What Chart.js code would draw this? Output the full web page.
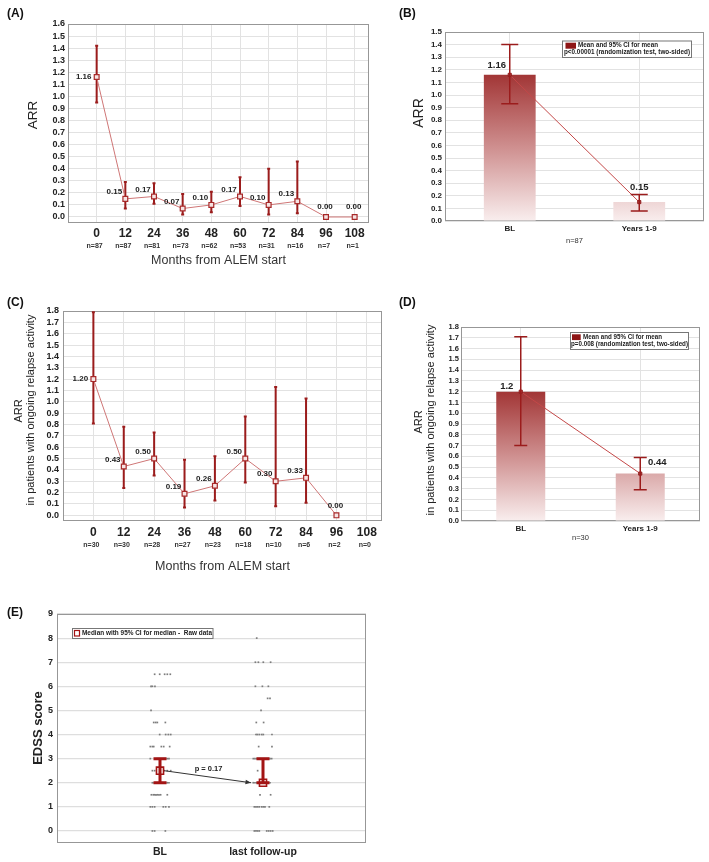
<!DOCTYPE html>
<html>
<head>
<meta charset="utf-8">
<title>ARR and EDSS after alemtuzumab</title>
<script src="https://cdn.jsdelivr.net/npm/chart.js@4.4.1/dist/chart.umd.min.js"></script>
<style>
  body { margin: 0; background: #fff; }
  #page { position: relative; width: 709px; height: 862px; overflow: hidden; font-family: "Liberation Sans", Arial, sans-serif; }
  canvas { position: absolute; }
  .tag { position: absolute; font-size: 12px; font-weight: bold; color: #111; }
</style>
</head>
<body>
<div id="page">
  <canvas id="chartA" width="400" height="290" style="left:0;top:0"></canvas>
  <canvas id="chartB" width="309" height="290" style="left:400px;top:0"></canvas>
  <canvas id="chartC" width="400" height="300" style="left:0;top:290px"></canvas>
  <canvas id="chartD" width="309" height="300" style="left:400px;top:290px"></canvas>
  <canvas id="chartE" width="400" height="272" style="left:0;top:590px"></canvas>
  <div class="tag" style="left:7px;top:6px">(A)</div>
  <div class="tag" style="left:399px;top:6px">(B)</div>
  <div class="tag" style="left:7px;top:295px">(C)</div>
  <div class="tag" style="left:399px;top:295px">(D)</div>
  <div class="tag" style="left:7px;top:605px">(E)</div>
</div>
<script>
var months = [0, 12, 24, 36, 48, 60, 72, 84, 96, 108];

// (A) all patients, ARR per year with 95% CI
var arrAll   = [1.16, 0.15, 0.17, 0.07, 0.10, 0.17, 0.10, 0.13, 0.00, 0.00];
var arrAllLo = [0.95, 0.07, 0.11, 0.02, 0.04, 0.09, 0.02, 0.03, null, null];
var arrAllHi = [1.42, 0.29, 0.28, 0.19, 0.21, 0.33, 0.40, 0.46, null, null];
var nAll     = ['n=87', 'n=87', 'n=81', 'n=73', 'n=62', 'n=53', 'n=31', 'n=16', 'n=7', 'n=1'];

// (C) patients with ongoing relapse activity
var arrAct   = [1.20, 0.43, 0.50, 0.19, 0.26, 0.50, 0.30, 0.33, 0.00, null];
var arrActLo = [0.81, 0.24, 0.35, 0.07, 0.13, 0.29, 0.08, 0.11, null, null];
var arrActHi = [1.79, 0.78, 0.73, 0.49, 0.52, 0.87, 1.13, 1.03, null, null];
var nAct     = ['n=30', 'n=30', 'n=28', 'n=27', 'n=23', 'n=18', 'n=10', 'n=6', 'n=2', 'n=0'];

// (B) and (D) baseline vs years 1-9
var periods = ['BL', 'Years 1-9'];
var meanAll = [1.16, 0.15];
var ciAllLo = [0.93, 0.08];
var ciAllHi = [1.40, 0.21];
var meanAct = [1.2, 0.44];
var ciActLo = [0.70, 0.29];
var ciActHi = [1.71, 0.59];

var ticks15 = [0, 0.1, 0.2, 0.3, 0.4, 0.5, 0.6, 0.7, 0.8, 0.9, 1.0, 1.1, 1.2, 1.3, 1.4, 1.5];
var ticks16 = [0, 0.1, 0.2, 0.3, 0.4, 0.5, 0.6, 0.7, 0.8, 0.9, 1.0, 1.1, 1.2, 1.3, 1.4, 1.5, 1.6];
var ticks18 = [0, 0.1, 0.2, 0.3, 0.4, 0.5, 0.6, 0.7, 0.8, 0.9, 1.0, 1.1, 1.2, 1.3, 1.4, 1.5, 1.6, 1.7, 1.8];
var edssTicks = [0, 1, 2, 3, 4, 5, 6, 7, 8, 9];

// (E) EDSS, median with 95% CI, raw data (horizontal spread)
var groups     = ['BL', 'last follow-up'];
var edssMedian = [2.5, 2.0];
var edssCiLo   = [2.0, 2.0];
var edssCiHi   = [3.0, 3.0];
var edssLevels = [8, 7, 6.5, 6, 5.5, 5, 4.5, 4, 3.5, 3, 2.5, 2, 1.5, 1, 0];
var blJitter = [
  [], [],
  [-0.052, -0.003, 0.045, 0.071, 0.1],
  [-0.087, -0.074, -0.049],
  [],
  [-0.087],
  [-0.061, -0.042, -0.026, 0.052],
  [-0.003, 0.055, 0.081, 0.104],
  [-0.094, -0.074, -0.061, 0.013, 0.036, 0.094],
  [-0.094, -0.026, -0.01, 0.006, 0.023, 0.039, 0.055, 0.071, 0.087],
  [-0.074, -0.052, 0, 0.039, 0.071, 0.104],
  [-0.074, -0.058, -0.042, -0.026, -0.01, 0.006, 0.023, 0.039, 0.055, 0.071, 0.087],
  [-0.084, -0.065, -0.052, -0.039, -0.026, -0.01, 0.006, 0.071],
  [-0.094, -0.074, -0.052, 0.032, 0.055, 0.087],
  [-0.074, -0.052, 0.052]
];
var fuJitter = [
  [-0.061],
  [-0.074, -0.045, 0.003, 0.074],
  [],
  [-0.074, -0.006, 0.052],
  [0.045, 0.068],
  [-0.019],
  [-0.065, 0.006],
  [-0.068, -0.055, -0.036, -0.013, 0.003, 0.087],
  [-0.042, 0.087],
  [-0.094, -0.078, -0.061, -0.045, -0.029, -0.013, 0.003, 0.019, 0.036, 0.052, 0.068, 0.084],
  [-0.052],
  [-0.094, -0.078, -0.061, -0.045, -0.029, -0.013, 0.003, 0.019, 0.036, 0.052, 0.068],
  [-0.029, 0.074],
  [-0.084, -0.068, -0.052, -0.036, -0.013, 0.003, 0.019, 0.061],
  [-0.084, -0.068, -0.052, -0.036, 0.036, 0.055, 0.074, 0.094]
];

var FONT = '"Liberation Sans", Arial, sans-serif';
var GRID = '#e2e2e2';
var FRAME = '#979797';
var DARKRED = '#9b1c1c';

Chart.defaults.font.family = FONT;
Chart.defaults.color = '#222';

function frame(ch) {
  var a = ch.chartArea, ctx = ch.ctx;
  ctx.save();
  ctx.strokeStyle = FRAME;
  ctx.lineWidth = 1;
  ctx.strokeRect(a.left + 0.5, a.top + 0.5, a.right - a.left - 1, a.bottom - a.top - 1);
  ctx.restore();
}

function whisker(ctx, x, yLo, yHi, cap) {
  ctx.beginPath();
  ctx.moveTo(x, yLo); ctx.lineTo(x, yHi);
  ctx.moveTo(x - cap, yLo); ctx.lineTo(x + cap, yLo);
  ctx.moveTo(x - cap, yHi); ctx.lineTo(x + cap, yHi);
  ctx.stroke();
}

function vText(ctx, text, x, y, font) {
  ctx.save();
  ctx.translate(x, y);
  ctx.rotate(-Math.PI / 2);
  ctx.font = font;
  ctx.textAlign = 'center';
  ctx.textBaseline = 'middle';
  ctx.fillStyle = '#222';
  ctx.fillText(text, 0, 0);
  ctx.restore();
}

function fixedTicks(list) {
  return function (s) { s.ticks = list.map(function (v) { return { value: v }; }); };
}

// line panels (A), (C)
function timeline(id, means, lo, hi, ns, yTicks, g) {
  var pts = months.map(function (m, i) { return { x: m, y: means[i] }; });
  var extras = {
    id: 'extras',
    beforeDatasetsDraw: function (ch) {
      frame(ch);
      var ctx = ch.ctx, xs = ch.scales.x, ys = ch.scales.y;
      ctx.save();
      ctx.strokeStyle = DARKRED;
      ctx.lineWidth = 2;
      months.forEach(function (m, i) {
        if (lo[i] == null) return;
        whisker(ctx, xs.getPixelForValue(m), ys.getPixelForValue(lo[i]), ys.getPixelForValue(hi[i]), 1.5);
      });
      ctx.restore();
    },
    afterDatasetsDraw: function (ch) {
      var ctx = ch.ctx, xs = ch.scales.x, ys = ch.scales.y;
      ctx.save();
      ctx.font = 'bold 8px ' + FONT;
      ctx.textAlign = 'center';
      ctx.textBaseline = 'middle';
      ctx.fillStyle = '#222';
      means.forEach(function (v, i) {
        if (v == null) return;
        var x = xs.getPixelForValue(months[i]), y = ys.getPixelForValue(v);
        if (v === 0) ctx.fillText(v.toFixed(2), x - 1, y - 10);
        else if (i === 0) ctx.fillText(v.toFixed(2), x - 13, y);
        else ctx.fillText(v.toFixed(2), x - 11, y - 7);
      });
      ctx.restore();
    },
    afterDraw: function (ch) {
      var ctx = ch.ctx, a = ch.chartArea, xs = ch.scales.x;
      ctx.save();
      ctx.fillStyle = '#333';
      ctx.textAlign = 'center';
      ctx.textBaseline = 'middle';
      ctx.font = 'bold 7px ' + FONT;
      months.forEach(function (m, i) {
        ctx.fillText(ns[i], xs.getPixelForValue(m) - 2, a.bottom + g.nOff);
      });
      ctx.font = '12.5px ' + FONT;
      ctx.fillText('Months from ALEM start', (a.left + a.right) / 2, a.bottom + g.titleOff);
      ctx.restore();
      g.yTitles.forEach(function (t) { vText(ctx, t.text, t.x, t.y, t.font); });
    }
  };
  return new Chart(document.getElementById(id), {
    type: 'line',
    data: {
      datasets: [{
        data: pts,
        borderColor: '#cf7676',
        borderWidth: 1,
        pointStyle: 'rect',
        pointRadius: 3.4,
        pointBorderWidth: 1.2,
        pointBorderColor: '#a82a2a',
        pointBackgroundColor: '#f6e3e3',
        spanGaps: false
      }]
    },
    options: {
      responsive: false,
      animation: false,
      layout: { padding: { top: g.top, right: g.right, left: 0, bottom: 0 } },
      plugins: { legend: { display: false }, tooltip: { enabled: false } },
      scales: {
        x: {
          type: 'linear', min: -12, max: 114,
          afterBuildTicks: fixedTicks(months),
          afterFit: function (s) { s.height = g.xh; },
          grid: { color: GRID, drawTicks: false },
          border: { display: false },
          ticks: { autoSkip: false, maxRotation: 0, padding: g.xpad, color: '#222', font: { size: 12, weight: 'bold' } }
        },
        y: {
          min: -0.05, max: yTicks[yTicks.length - 1],
          afterBuildTicks: fixedTicks(yTicks),
          afterFit: function (s) { s.width = g.yw; },
          grid: { color: GRID, drawTicks: false },
          border: { display: false },
          ticks: { autoSkip: false, padding: g.ypad, color: '#222', font: { size: 9, weight: 'bold' },
                   callback: function (v) { return Number(v).toFixed(1); } }
        }
      }
    },
    plugins: [extras]
  });
}

// bar panels (B), (D)
function barFill(means) {
  return function (c) {
    var ch = c.chart, a = ch.chartArea;
    if (!a) return '#b45050';
    var top = ch.scales.y.getPixelForValue(Math.max.apply(null, means));
    var grad = ch.ctx.createLinearGradient(0, top, 0, a.bottom);
    grad.addColorStop(0, '#a23636');
    grad.addColorStop(0.5, '#cf9090');
    grad.addColorStop(1, '#f9eeee');
    return grad;
  };
}

function compare(id, means, lo, hi, nText, legendLines, yTicks, g) {
  var extras = {
    id: 'extras',
    beforeDatasetsDraw: function (ch) { frame(ch); },
    afterDatasetsDraw: function (ch) {
      var ctx = ch.ctx, xs = ch.scales.x, ys = ch.scales.y;
      ctx.save();
      ctx.strokeStyle = DARKRED;
      ctx.lineWidth = 1.5;
      means.forEach(function (v, i) {
        whisker(ctx, xs.getPixelForValue(i), ys.getPixelForValue(lo[i]), ys.getPixelForValue(hi[i]), g.cap);
      });
      ctx.font = 'bold 9.5px ' + FONT;
      ctx.textAlign = 'center';
      ctx.textBaseline = 'middle';
      ctx.fillStyle = '#222';
      means.forEach(function (v, i) {
        var off = g.valueOffsets[i];
        ctx.fillText(String(v), xs.getPixelForValue(i) + off[0], ys.getPixelForValue(v) + off[1]);
      });
      ctx.restore();
    },
    afterDraw: function (ch) {
      var ctx = ch.ctx, a = ch.chartArea, L = g.legend;
      ctx.save();
      ctx.fillStyle = '#fff';
      ctx.fillRect(L.x, L.y, L.w, L.h);
      ctx.strokeStyle = '#777';
      ctx.lineWidth = 1;
      ctx.strokeRect(L.x + 0.5, L.y + 0.5, L.w, L.h);
      ctx.fillStyle = '#8e1515';
      ctx.fillRect(L.sx, L.sy, L.sw, L.sh);
      ctx.fillStyle = '#222';
      ctx.font = 'bold 6.5px ' + FONT;
      ctx.textBaseline = 'middle';
      ctx.textAlign = 'left';
      ctx.fillText(legendLines[0], L.t1x, L.t1y, L.t1w);
      ctx.fillText(legendLines[1], L.t2x, L.t2y, L.t2w);
      ctx.textAlign = 'center';
      ctx.font = '7.5px ' + FONT;
      ctx.fillStyle = '#333';
      ctx.fillText(nText, (a.left + a.right) / 2, a.bottom + g.nOff);
      ctx.restore();
      g.yTitles.forEach(function (t) { vText(ctx, t.text, t.x, t.y, t.font); });
    }
  };
  return new Chart(document.getElementById(id), {
    type: 'bar',
    data: {
      labels: periods,
      datasets: [
        { type: 'line', data: means, borderColor: '#c44848', borderWidth: 1,
          pointStyle: 'rect', pointRadius: 2.2, pointBorderWidth: 1,
          pointBorderColor: '#8e1c1c', pointBackgroundColor: '#b84444', order: 0 },
        { type: 'bar', data: means, backgroundColor: barFill(means),
          barPercentage: g.barPct, categoryPercentage: 1, order: 1 }
      ]
    },
    options: {
      responsive: false,
      animation: false,
      layout: { padding: { top: g.top, right: g.right, left: 0, bottom: 0 } },
      plugins: { legend: { display: false }, tooltip: { enabled: false } },
      scales: {
        x: {
          offset: true,
          afterFit: function (s) { s.height = g.xh; },
          grid: { color: GRID, drawTicks: false, offset: false },
          border: { display: false },
          ticks: { padding: 3, color: '#222', font: { size: 8, weight: 'bold' } }
        },
        y: {
          min: 0, max: yTicks[yTicks.length - 1],
          afterBuildTicks: fixedTicks(yTicks),
          afterFit: function (s) { s.width = g.yw; },
          grid: { color: GRID, drawTicks: false },
          border: { display: false },
          ticks: { autoSkip: false, padding: g.ypad, color: '#222', font: { size: g.yFont, weight: 'bold' },
                   callback: function (v) { return Number(v).toFixed(1); } }
        }
      }
    },
    plugins: [extras]
  });
}

timeline('chartA', arrAll, arrAllLo, arrAllHi, nAll, ticks16, {
  top: 24, right: 31, xh: 67, yw: 68, xpad: 3, ypad: 3, nOff: 23, titleOff: 38,
  yTitles: [{ text: 'ARR', x: 33, y: 115, font: '13.5px ' + FONT }]
});

timeline('chartC', arrAct, arrActLo, arrActHi, nAct, ticks18, {
  top: 21, right: 18, xh: 69, yw: 63, xpad: 4, ypad: 4, nOff: 24, titleOff: 46,
  yTitles: [
    { text: 'ARR', x: 19, y: 121, font: '11px ' + FONT },
    { text: 'in patients with ongoing relapse activity', x: 31, y: 120, font: '11px ' + FONT }
  ]
});

compare('chartB', meanAll, ciAllLo, ciAllHi, 'n=87',
  ['Mean and 95% CI for mean', 'p<0.00001 (randomization test, two-sided)'], ticks15, {
  top: 32, right: 5, xh: 69, yw: 45, ypad: 3, yFont: 8, barPct: 0.4, cap: 8.5, nOff: 20,
  valueOffsets: [[-13, -9], [0, -15]],
  legend: { x: 162, y: 40.5, w: 129, h: 16.5, sx: 165.5, sy: 42.7, sw: 10.5, sh: 6,
            t1x: 178, t1y: 45.5, t1w: 80, t2x: 164, t2y: 52.7, t2w: 126 },
  yTitles: [{ text: 'ARR', x: 19, y: 113, font: '14px ' + FONT }]
});

compare('chartD', meanAct, ciActLo, ciActHi, 'n=30',
  ['Mean and 95% CI for mean', 'p=0.008 (randomization test, two-sided)'], ticks18, {
  top: 37, right: 9, xh: 69, yw: 61, ypad: 2, yFont: 7.5, barPct: 0.41, cap: 6.5, nOff: 17,
  valueOffsets: [[-14, -5], [17, -11]],
  legend: { x: 170, y: 42, w: 118, h: 17, sx: 172, sy: 44.3, sw: 8.7, sh: 5.8,
            t1x: 183, t1y: 47.3, t1w: 79, t2x: 171, t2y: 54.7, t2w: 117 },
  yTitles: [
    { text: 'ARR', x: 19, y: 132, font: '11px ' + FONT },
    { text: 'in patients with ongoing relapse activity', x: 31, y: 130, font: '11px ' + FONT }
  ]
});

// (E) EDSS
var rawBL = [], rawFU = [];
edssLevels.forEach(function (lv, i) {
  blJitter[i].forEach(function (d) { rawBL.push({ x: 1 + d, y: lv }); });
  fuJitter[i].forEach(function (d) { rawFU.push({ x: 2 + d, y: lv }); });
});

var edssExtras = {
  id: 'extras',
  beforeDatasetsDraw: function (ch) { frame(ch); },
  beforeDatasetDraw: function (ch, args) {
    if (args.index !== 0) return;
    var ctx = ch.ctx, xs = ch.scales.x, ys = ch.scales.y;
    ctx.save();
    ctx.strokeStyle = '#a31414';
    ctx.lineWidth = 3;
    groups.forEach(function (gname, i) {
      whisker(ctx, xs.getPixelForValue(i + 1), ys.getPixelForValue(edssCiLo[i]), ys.getPixelForValue(edssCiHi[i]), 6.5);
    });
    var x1 = xs.getPixelForValue(1) + 4, y1 = ys.getPixelForValue(edssMedian[0]);
    var x2 = xs.getPixelForValue(2) - 12, y2 = ys.getPixelForValue(edssMedian[1]);
    var ang = Math.atan2(y2 - y1, x2 - x1);
    ctx.strokeStyle = '#333';
    ctx.fillStyle = '#333';
    ctx.lineWidth = 1;
    ctx.beginPath();
    ctx.moveTo(x1, y1);
    ctx.lineTo(x2, y2);
    ctx.stroke();
    ctx.beginPath();
    ctx.moveTo(x2, y2);
    ctx.lineTo(x2 - 6 * Math.cos(ang - 0.4), y2 - 6 * Math.sin(ang - 0.4));
    ctx.lineTo(x2 - 6 * Math.cos(ang + 0.4), y2 - 6 * Math.sin(ang + 0.4));
    ctx.closePath();
    ctx.fill();
    ctx.font = 'bold 7.5px ' + FONT;
    ctx.textAlign = 'center';
    ctx.textBaseline = 'middle';
    ctx.fillStyle = '#222';
    ctx.fillText('p = 0.17', (x1 + x2) / 2 + 1, (y1 + y2) / 2 - 8);
    ctx.restore();
  },
  afterDraw: function (ch) {
    var ctx = ch.ctx;
    ctx.save();
    ctx.fillStyle = '#fff';
    ctx.fillRect(72.5, 38, 140.5, 10);
    ctx.strokeStyle = '#777';
    ctx.lineWidth = 1;
    ctx.strokeRect(72.5, 38.5, 140.5, 10);
    ctx.strokeStyle = '#a31414';
    ctx.lineWidth = 1.2;
    ctx.strokeRect(74.5, 40.5, 5, 5.5);
    ctx.fillStyle = '#222';
    ctx.font = 'bold 6.5px ' + FONT;
    ctx.textBaseline = 'middle';
    ctx.fillText('Median with 95% CI for median -  Raw data', 82, 43.5, 130);
    ctx.restore();
    vText(ctx, 'EDSS score', 38, 138, 'bold 13px ' + FONT);
  }
};

new Chart(document.getElementById('chartE'), {
  type: 'scatter',
  data: {
    datasets: [
      { data: groups.map(function (gname, i) { return { x: i + 1, y: edssMedian[i] }; }),
        pointStyle: 'rect', pointRadius: 5, pointBorderWidth: 1.6,
        borderColor: '#a31414', backgroundColor: 'rgba(255,255,255,0)' },
      { data: rawBL, pointStyle: 'rect', pointRadius: 1.2, pointBorderWidth: 0,
        backgroundColor: '#7d7d7d', borderColor: '#7d7d7d' },
      { data: rawFU, pointStyle: 'rect', pointRadius: 1.2, pointBorderWidth: 0,
        backgroundColor: '#7d7d7d', borderColor: '#7d7d7d' }
    ]
  },
  options: {
    responsive: false,
    animation: false,
    layout: { padding: { top: 24, right: 34, left: 0, bottom: 0 } },
    plugins: { legend: { display: false }, tooltip: { enabled: false } },
    scales: {
      x: {
        type: 'linear', min: 0, max: 3,
        afterBuildTicks: fixedTicks([1, 2]),
        afterFit: function (s) { s.height = 19; },
        grid: { display: false, drawTicks: false },
        border: { display: false },
        ticks: { padding: 3, color: '#222', font: { size: 10.5, weight: 'bold' },
                 callback: function (v) { return groups[v - 1]; } }
      },
      y: {
        min: -0.5, max: 9,
        afterBuildTicks: fixedTicks(edssTicks),
        afterFit: function (s) { s.width = 57; },
        grid: { color: '#dedede', lineWidth: 1.2, drawTicks: false },
        border: { display: false },
        ticks: { autoSkip: false, padding: 4, color: '#222', font: { size: 9, weight: 'bold' } }
      }
    }
  },
  plugins: [edssExtras]
});
</script>
</body>
</html>
